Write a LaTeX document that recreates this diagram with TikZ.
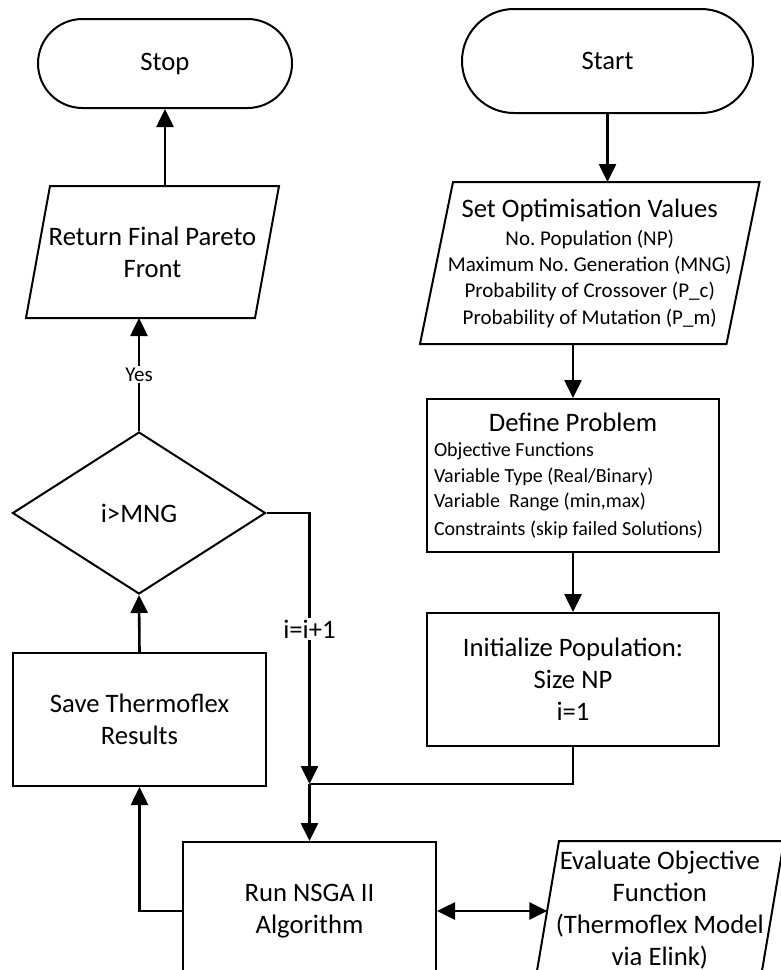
\documentclass[tikz,border=0pt]{standalone}
\usepackage{fontspec}
\setmainfont{Carlito}
\usetikzlibrary{arrows.meta,shapes.geometric}
\tikzset{
  x=1pt,y=1pt,
  boxline/.style={line width=2pt},
  conn/.style={line width=2.6pt,-{Triangle[length=18pt,width=17pt]}},
  plain/.style={line width=2.6pt},
  bigtext/.style={font=\fontsize{26.67}{32}\selectfont,align=center},
  stadium/.style={draw,boxline,rectangle,bigtext},
  procbox/.style={draw,boxline,rectangle,inner sep=7pt,bigtext},
  paranode/.style={rectangle,outer sep=0pt,inner sep=0pt,bigtext},
  lbl/.style={fill=white,inner sep=2pt},
}
\newcommand\paradraw[2]{\draw[boxline] ([xshift=#2]#1.north west) -- ([xshift=#2]#1.north east) -- ([xshift=-#2]#1.south east) -- ([xshift=-#2]#1.south west) -- cycle;}
\begin{document}
\frenchspacing
\begin{tikzpicture}
\useasboundingbox (0,0) rectangle (781,-970);
\clip (0,0) rectangle (781,-970);
\fill[white] (0,0) rectangle (781,-970);

% terminals
\node[stadium,minimum width=254pt,minimum height=89pt,rounded corners=44.5pt] (stop) at (165,-63.5) {Stop};
\node[stadium,minimum width=291pt,minimum height=104pt,rounded corners=52pt] (start) at (607.5,-61) {Start};

% parallelograms
\node[paranode,minimum width=229pt,minimum height=132pt] (ret) at (152.5,-252) {Return Final Pareto\\Front};
\paradraw{ret}{12pt}

\node[paranode,minimum width=306.5pt,minimum height=162pt,text width=306pt,align=flush center] (set) at (589.75,-263)
  {\frenchspacing{\fontsize{26.67}{30}\selectfont Set Optimisation Values\par}
   \fontsize{21}{26}\selectfont
   \vspace{2pt}No. Population (NP)\\
   Maximum No. Generation (MNG)\\
   Probability of Crossover (P\_c)\\[1pt]
   Probability of Mutation (P\_m)\par};
\paradraw{set}{16.5pt}

\node[paranode,minimum width=225pt,minimum height=138pt] (eval) at (659.8,-910)
  {Evaluate Objective\\Function\\(Thermoflex Model\\via Elink)};
\paradraw{eval}{11.7pt}

% process boxes
\node[draw,boxline,rectangle,inner sep=7pt,minimum width=292pt,minimum height=153pt,
  text width=278pt,align=flush left] (define) at (573,-475.5)
  {\makebox[\linewidth]{\fontsize{26.67}{30}\selectfont Define Problem}\par
   \fontsize{20}{25.5}\selectfont
   Objective Functions\\
   Variable Type (Real/Binary)\\
   Variable\ \ Range (min,max)\\[2pt]
   Constraints (skip failed Solutions)\par};

\node[procbox,minimum width=292pt,minimum height=133pt] (init) at (573,-679.5)
  {Initialize Population:\\Size NP\\i=1};

\node[draw,boxline,diamond,minimum width=253pt,minimum height=162pt,inner sep=0pt,bigtext] (dia) at (139,-513) {i>MNG};

\node[procbox,minimum width=253pt,minimum height=133pt] (save) at (139.5,-719.5)
  {Save Thermoflex\\Results};

\node[procbox,minimum width=253pt,minimum height=138pt] (run) at (309.5,-911)
  {Run NSGA II\\Algorithm};

% connectors
\draw[conn] (start.south) -- (start.south |- set.north);
\draw[conn] (define.north |- set.south) -- (define.north);
\draw[conn] (define.south) -- (init.north);
\coordinate (j) at (run.north |- 0,-784);
\draw[plain] (init.south) |- (j);
\draw[conn] (dia.east) -| (j) node[lbl,pos=0.714,font=\fontsize{26.67}{32}\selectfont] {i=i+1};
\draw[conn] (j) -- (run.north);
\draw[line width=2.6pt,{Triangle[length=18pt,width=17pt]}-{Triangle[length=18pt,width=17pt]}] (run.east) -- (run.east -| eval.west);
\draw[conn] (run.west) -| (save.south);
\draw[conn] (save.north) -- (dia.south);
\draw[conn] (dia.north) -- (dia.north |- ret.south) node[lbl,midway,font=\fontsize{21}{24}\selectfont] {Yes};
\draw[conn] (ret.north -| stop.south) -- (stop.south);
\end{tikzpicture}
\end{document}
